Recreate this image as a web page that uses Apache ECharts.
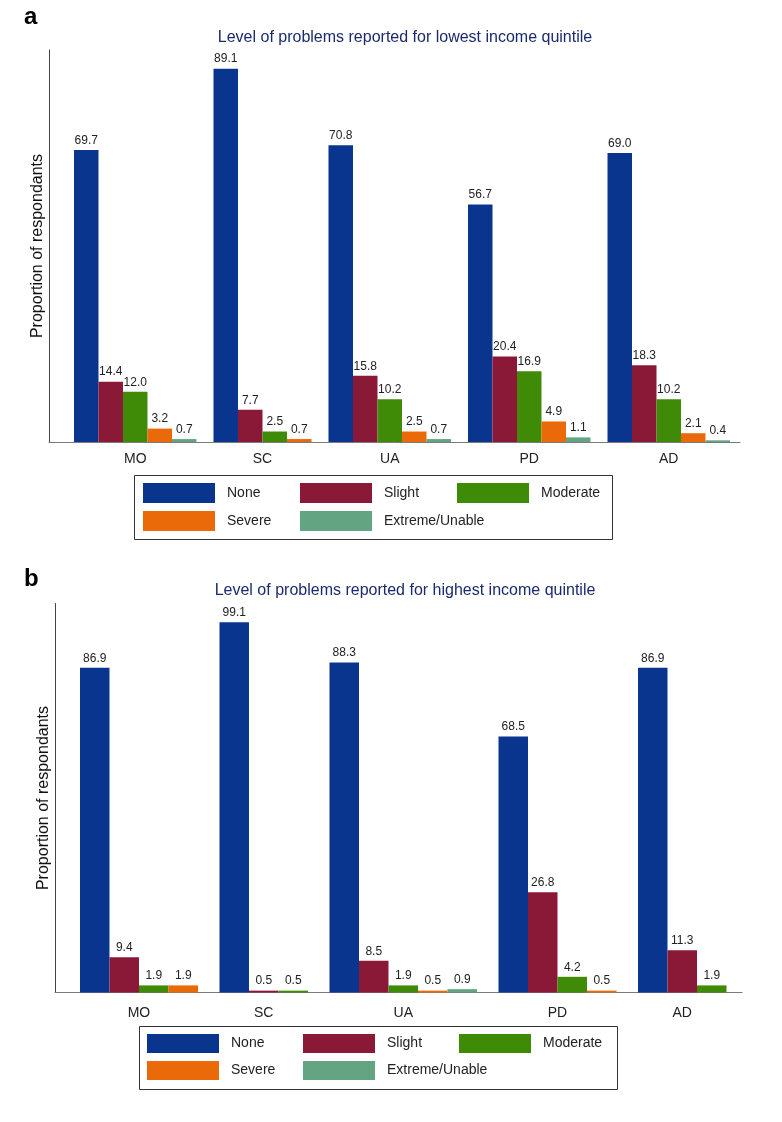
<!DOCTYPE html>
<html>
<head>
<meta charset="utf-8">
<script src="https://cdn.jsdelivr.net/npm/echarts@6/dist/echarts.min.js"></script>
<style>
html,body{margin:0;padding:0;background:#fff;}
#c{width:782px;height:1122px;}
</style>
</head>
<body>
<div id="c"></div>
<script>
// ---- Data ----
const categories = ['MO', 'SC', 'UA', 'PD', 'AD'];
const seriesNames = ['None', 'Slight', 'Moderate', 'Severe', 'Extreme/Unable'];

// Panel a: lowest income quintile
const lowNone     = [69.7, 89.1, 70.8, 56.7, 69.0];
const lowSlight   = [14.4, 7.7, 15.8, 20.4, 18.3];
const lowModerate = [12.0, 2.5, 10.2, 16.9, 10.2];
const lowSevere   = [3.2, 0.7, 2.5, 4.9, 2.1];
const lowExtreme  = [0.7, null, 0.7, 1.1, 0.4];

// Panel b: highest income quintile
const highNone     = [86.9, 99.1, 88.3, 68.5, 86.9];
const highSlight   = [9.4, 0.5, 8.5, 26.8, 11.3];
const highModerate = [1.9, 0.5, 1.9, 4.2, 1.9];
const highSevere   = [1.9, null, 0.5, 0.5, null];
const highExtreme  = [null, null, 0.9, null, null];

const titleA = 'Level of problems reported for lowest income quintile';
const titleB = 'Level of problems reported for highest income quintile';
const yName = 'Proportion of respondants';

// ---- Styles ----
const colors = ['#0a358f', '#8a1937', '#3f8a06', '#ea6a09', '#63a582'];
const FONT = '"Liberation Sans", Arial, Helvetica, sans-serif';

// Layout: bars are placed one after another (1 unit each), missing bars are skipped,
// with a fixed gap between category groups.
function layout(seriesArr, startOffset, gap) {
  const pos = seriesArr.map(() => []);
  const centers = [];
  let cursor = startOffset;
  categories.forEach((c, ci) => {
    const start = cursor;
    seriesArr.forEach((arr, si) => {
      const v = arr[ci];
      if (v !== null && v !== undefined) {
        pos[si].push([cursor + 0.5, v]);
        cursor += 1;
      }
    });
    centers.push((start + cursor) / 2);
    cursor += gap;
  });
  return { pos, centers };
}

const panelA = layout([lowNone, lowSlight, lowModerate, lowSevere, lowExtreme], 1.02, 0.694);
const panelB = layout([highNone, highSlight, highModerate, highSevere, highExtreme], 0.847, 0.729);

function renderBar(params, api) {
  const x = api.value(0), v = api.value(1);
  const a = api.coord([x - 0.5, v]);
  const b = api.coord([x + 0.5, 0]);
  return {
    type: 'group',
    children: [
      { type: 'rect',
        shape: { x: a[0], y: a[1], width: b[0] - a[0], height: b[1] - a[1] },
        style: { fill: api.visual('color') } },
      { type: 'text',
        style: { text: v.toFixed(1), x: (a[0] + b[0]) / 2, y: a[1] - 3.5,
                 align: 'center', verticalAlign: 'bottom', fill: '#222',
                 font: '12px ' + FONT } }
    ]
  };
}

function makeSeries(panel, idx) {
  return seriesNames.map((n, si) => ({
    type: 'custom',
    name: n,
    xAxisIndex: idx,
    yAxisIndex: idx,
    color: colors[si],
    itemStyle: { color: colors[si] },
    encode: { x: 0, y: 1 },
    renderItem: renderBar,
    silent: true,
    data: panel.pos[si]
  }));
}

function makeXAxis(panel, idx, max, margin) {
  return {
    type: 'value', gridIndex: idx, min: 0, max: max,
    axisLine: { show: true, lineStyle: { color: '#7a7a7a', width: 1 } },
    axisTick: { show: false },
    splitLine: { show: false },
    axisLabel: {
      show: true, margin: margin,
      customValues: panel.centers,
      formatter: (val) => {
        const i = panel.centers.findIndex(c => Math.abs(c - val) < 1e-6);
        return i >= 0 ? categories[i] : '';
      },
      color: '#222', fontSize: 14, fontFamily: FONT
    }
  };
}

function makeYAxis(idx, max, gap) {
  return {
    type: 'value', gridIndex: idx, min: 0, max: max,
    name: yName, nameLocation: 'middle', nameGap: gap, nameRotate: 90,
    nameTextStyle: { color: '#111', fontSize: 16, fontFamily: FONT, verticalAlign: 'bottom' },
    axisLine: { show: true, lineStyle: { color: '#444', width: 1 } },
    axisTick: { show: false },
    axisLabel: { show: false },
    splitLine: { show: false }
  };
}

function makeLegends(lefts, top, itemHeight) {
  const cols = [['None', 'Severe'], ['Slight', 'Extreme/Unable'], ['Moderate']];
  return cols.map((d, i) => ({
    data: d, orient: 'vertical', left: lefts[i], top: top, padding: 0,
    itemWidth: 72, itemHeight: itemHeight, itemGap: 8, icon: 'rect',
    selectedMode: false,
    itemStyle: { borderWidth: 0 },
    textStyle: { color: '#222', fontSize: 14, fontFamily: FONT, padding: [0, 0, 0, 7] }
  }));
}

const chart = echarts.init(document.getElementById('c'), null, { renderer: 'canvas' });

chart.setOption({
  animation: false,
  backgroundColor: '#fff',
  grid: [
    { left: 49, top: 50, width: 691, height: 392 },
    { left: 55, top: 603.5, width: 687, height: 389 }
  ],
  xAxis: [
    makeXAxis(panelA, 0, 691 / 24.5, 10),
    makeXAxis(panelB, 1, 687 / 29.5, 14)
  ],
  yAxis: [
    makeYAxis(0, 93.56, 3),
    makeYAxis(1, 104.1, 3)
  ],
  legend: [].concat(
    makeLegends([143, 300, 457], 483, 20),
    makeLegends([147, 303, 459], 1034, 19)
  ),
  graphic: [
    { type: 'text', left: 24, top: 5, style: { text: 'a', font: 'bold 24px ' + FONT, fill: '#000' } },
    { type: 'text', left: 24, top: 567, style: { text: 'b', font: 'bold 24px ' + FONT, fill: '#000' } },
    { type: 'text', x: 405, y: 38, style: { text: titleA, align: 'center', verticalAlign: 'middle', font: '16px ' + FONT, fill: '#1b2a6e' } },
    { type: 'text', x: 405, y: 591, style: { text: titleB, align: 'center', verticalAlign: 'middle', font: '16px ' + FONT, fill: '#1b2a6e' } },
    { type: 'rect', shape: { x: 134.5, y: 475.5, width: 478, height: 64 }, style: { fill: 'none', stroke: '#333', lineWidth: 1 } },
    { type: 'rect', shape: { x: 139.5, y: 1026.5, width: 478, height: 63 }, style: { fill: 'none', stroke: '#333', lineWidth: 1 } }
  ],
  series: [].concat(makeSeries(panelA, 0), makeSeries(panelB, 1))
});
</script>
</body>
</html>
